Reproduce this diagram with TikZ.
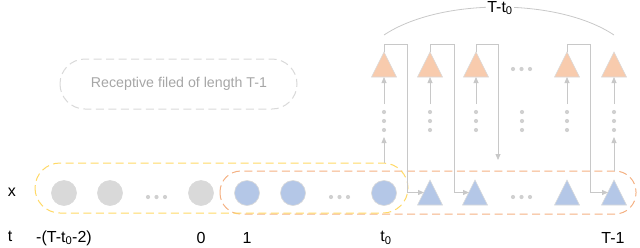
\documentclass[tikz,border=0pt]{standalone}
\usepackage{fontspec}
\setmainfont{Liberation Sans}
\usetikzlibrary{shapes.geometric,arrows.meta,calc}
\definecolor{conn}{HTML}{C8C8C8}
\definecolor{graycirc}{HTML}{D9D9D9}
\definecolor{bluefill}{HTML}{B4C7E7}
\definecolor{orangefill}{HTML}{F8CBAD}
\definecolor{yellowbox}{HTML}{FFD966}
\definecolor{orangebox}{HTML}{F4B183}
\definecolor{graybox}{HTML}{D9D9D9}
\definecolor{graytext}{HTML}{A6A6A6}
\definecolor{dotcol}{HTML}{D0D0D0}
\begin{document}
\begin{tikzpicture}[x=1pt,y=-1pt,
  circ/.style={circle,inner sep=0pt,outer sep=0pt,minimum size=25pt,draw=white!85!black,line width=0.6pt},
  grayc/.style={circ,fill=graycirc},
  bluec/.style={circ,fill=bluefill},
  tri/.style={isosceles triangle,isosceles triangle stretches,shape border rotate=90,
    inner sep=0pt,outer sep=0pt,minimum width=25pt,minimum height=25pt,anchor=apex,
    draw=white!85!black,line width=0.6pt},
  bluet/.style={tri,fill=bluefill},
  oranget/.style={tri,fill=orangefill},
  dot/.style={circle,fill=dotcol,inner sep=0pt,minimum size=4.2pt},
  conn/.style={draw=conn,line width=0.8pt},
  arr/.style={conn,-{Triangle[length=6pt,width=5pt]}},
  box/.style={dash pattern=on 8pt off 4.5pt,line width=1pt},
  lab/.style={font=\fontsize{16}{18}\selectfont,inner sep=1pt}
]
\useasboundingbox (0,0) rectangle (640,247);

% dashed boxes
\draw[box,draw=graybox,rounded corners=25pt] (60,59) rectangle (297,109);
\node[font=\fontsize{14.2}{16}\selectfont,text=graytext] (rf) at (179,84) {Receptive filed of length T-1};
\draw[box,draw=orangebox,rounded corners=21pt] (220,171) rectangle (636,214);
\draw[box,draw=yellowbox,rounded corners=25pt] (35,163) rectangle (408,213);

% bottom row circles
\node[grayc] (c1) at (64,193) {};
\node[grayc] (c2) at (110,193) {};
\node[grayc] (c3) at (201,193) {};
\node[bluec] (b1) at (247,193) {};
\node[bluec] (b2) at (293,193) {};
\node[bluec] (b3) at (384,193) {};
\foreach \x/\n in {148/a,156.5/b,165/c}{\node[dot] (dl\n) at (\x,197) {};}
\foreach \x/\n in {331/a,339.5/b,348/c}{\node[dot] (dm\n) at (\x,197) {};}
\foreach \x/\n in {513/a,521.5/b,530/c}{\node[dot] (dr\n) at (\x,197) {};}

% bottom triangles
\node[bluet] (bt1) at (430,180) {};
\node[bluet] (bt2) at (475,180) {};
\node[bluet] (bt3) at (567,180) {};
\node[bluet] (bt4) at (614,180) {};

% top triangles
\node[oranget] (tt1) at (384,52) {};
\node[oranget] (tt2) at (430,52) {};
\node[oranget] (tt3) at (476,52) {};
\node[oranget] (tt4) at (567,52) {};
\node[oranget] (tt5) at (614,52) {};
\foreach \x/\n in {513/a,521.5/b,530/c}{\node[dot] (dt\n) at (\x,69) {};}

% vertical dots and arrows
\foreach \x/\n in {384/1,430/2,476/3,522/4,567/5,614/6}{
  \node[dot] (v\n a) at (\x,112) {};
  \node[dot] (v\n b) at (\x,121) {};
  \node[dot] (v\n c) at (\x,130) {};
  \coordinate (u\n) at (\x,104);
}
\draw[arr] (u1) -- (tt1);
\draw[arr] (u2) -- (tt2);
\draw[arr] (u3) -- (tt3);
\draw[arr] (u5) -- (tt4);
\draw[arr] (u6) -- (tt5);
\coordinate (l1) at (384,137);
\coordinate (l6) at (614,137);
\draw[arr] (b3.north) ++(0,-18) -- (l1);
\draw[arr] (bt4.apex) ++(0,-9) -- (l6);

% feedback connectors
\coordinate (fb3) at (498,160);
\draw[arr] (tt1.apex) -- ++(0,-8) -| ([xshift=-23pt]bt1.apex |- 0,192.5) -- ++(17,0);
\draw[arr] (tt2.apex) -- ++(0,-8) -| ([xshift=-21pt]bt2.apex |- 0,192.5) -- ++(15,0);
\draw[arr] (tt3.apex) -- ++(0,-8) -| (fb3);
\draw[arr] (tt4.apex) -- ++(0,-8) -| ([xshift=-24pt]bt4.apex |- 0,192.5) -- ++(18,0);

% arc
\coordinate (arcL) at (384,35);
\coordinate (arcR) at (614,35);
\draw[conn] (arcL) .. controls (440,-2.3) and (558,-2.3) .. (arcR);
\node[lab,fill=white] (tt) at (500,8) {T-t\textsubscript{0}};

% labels
\node[lab] (xl) at (12,192) {x};
\node[lab] (tl) at (10,236) {t};
\node[lab] (t0a) at (64,238) {-(T-t\textsubscript{0}-2)};
\node[lab] (t0b) at (201,238) {0};
\node[lab] (t0c) at (247,238) {1};
\node[lab] (t0d) at (386,238) {t\textsubscript{0}};
\node[lab] (t0e) at (613,238) {T-1};
\end{tikzpicture}
\end{document}
